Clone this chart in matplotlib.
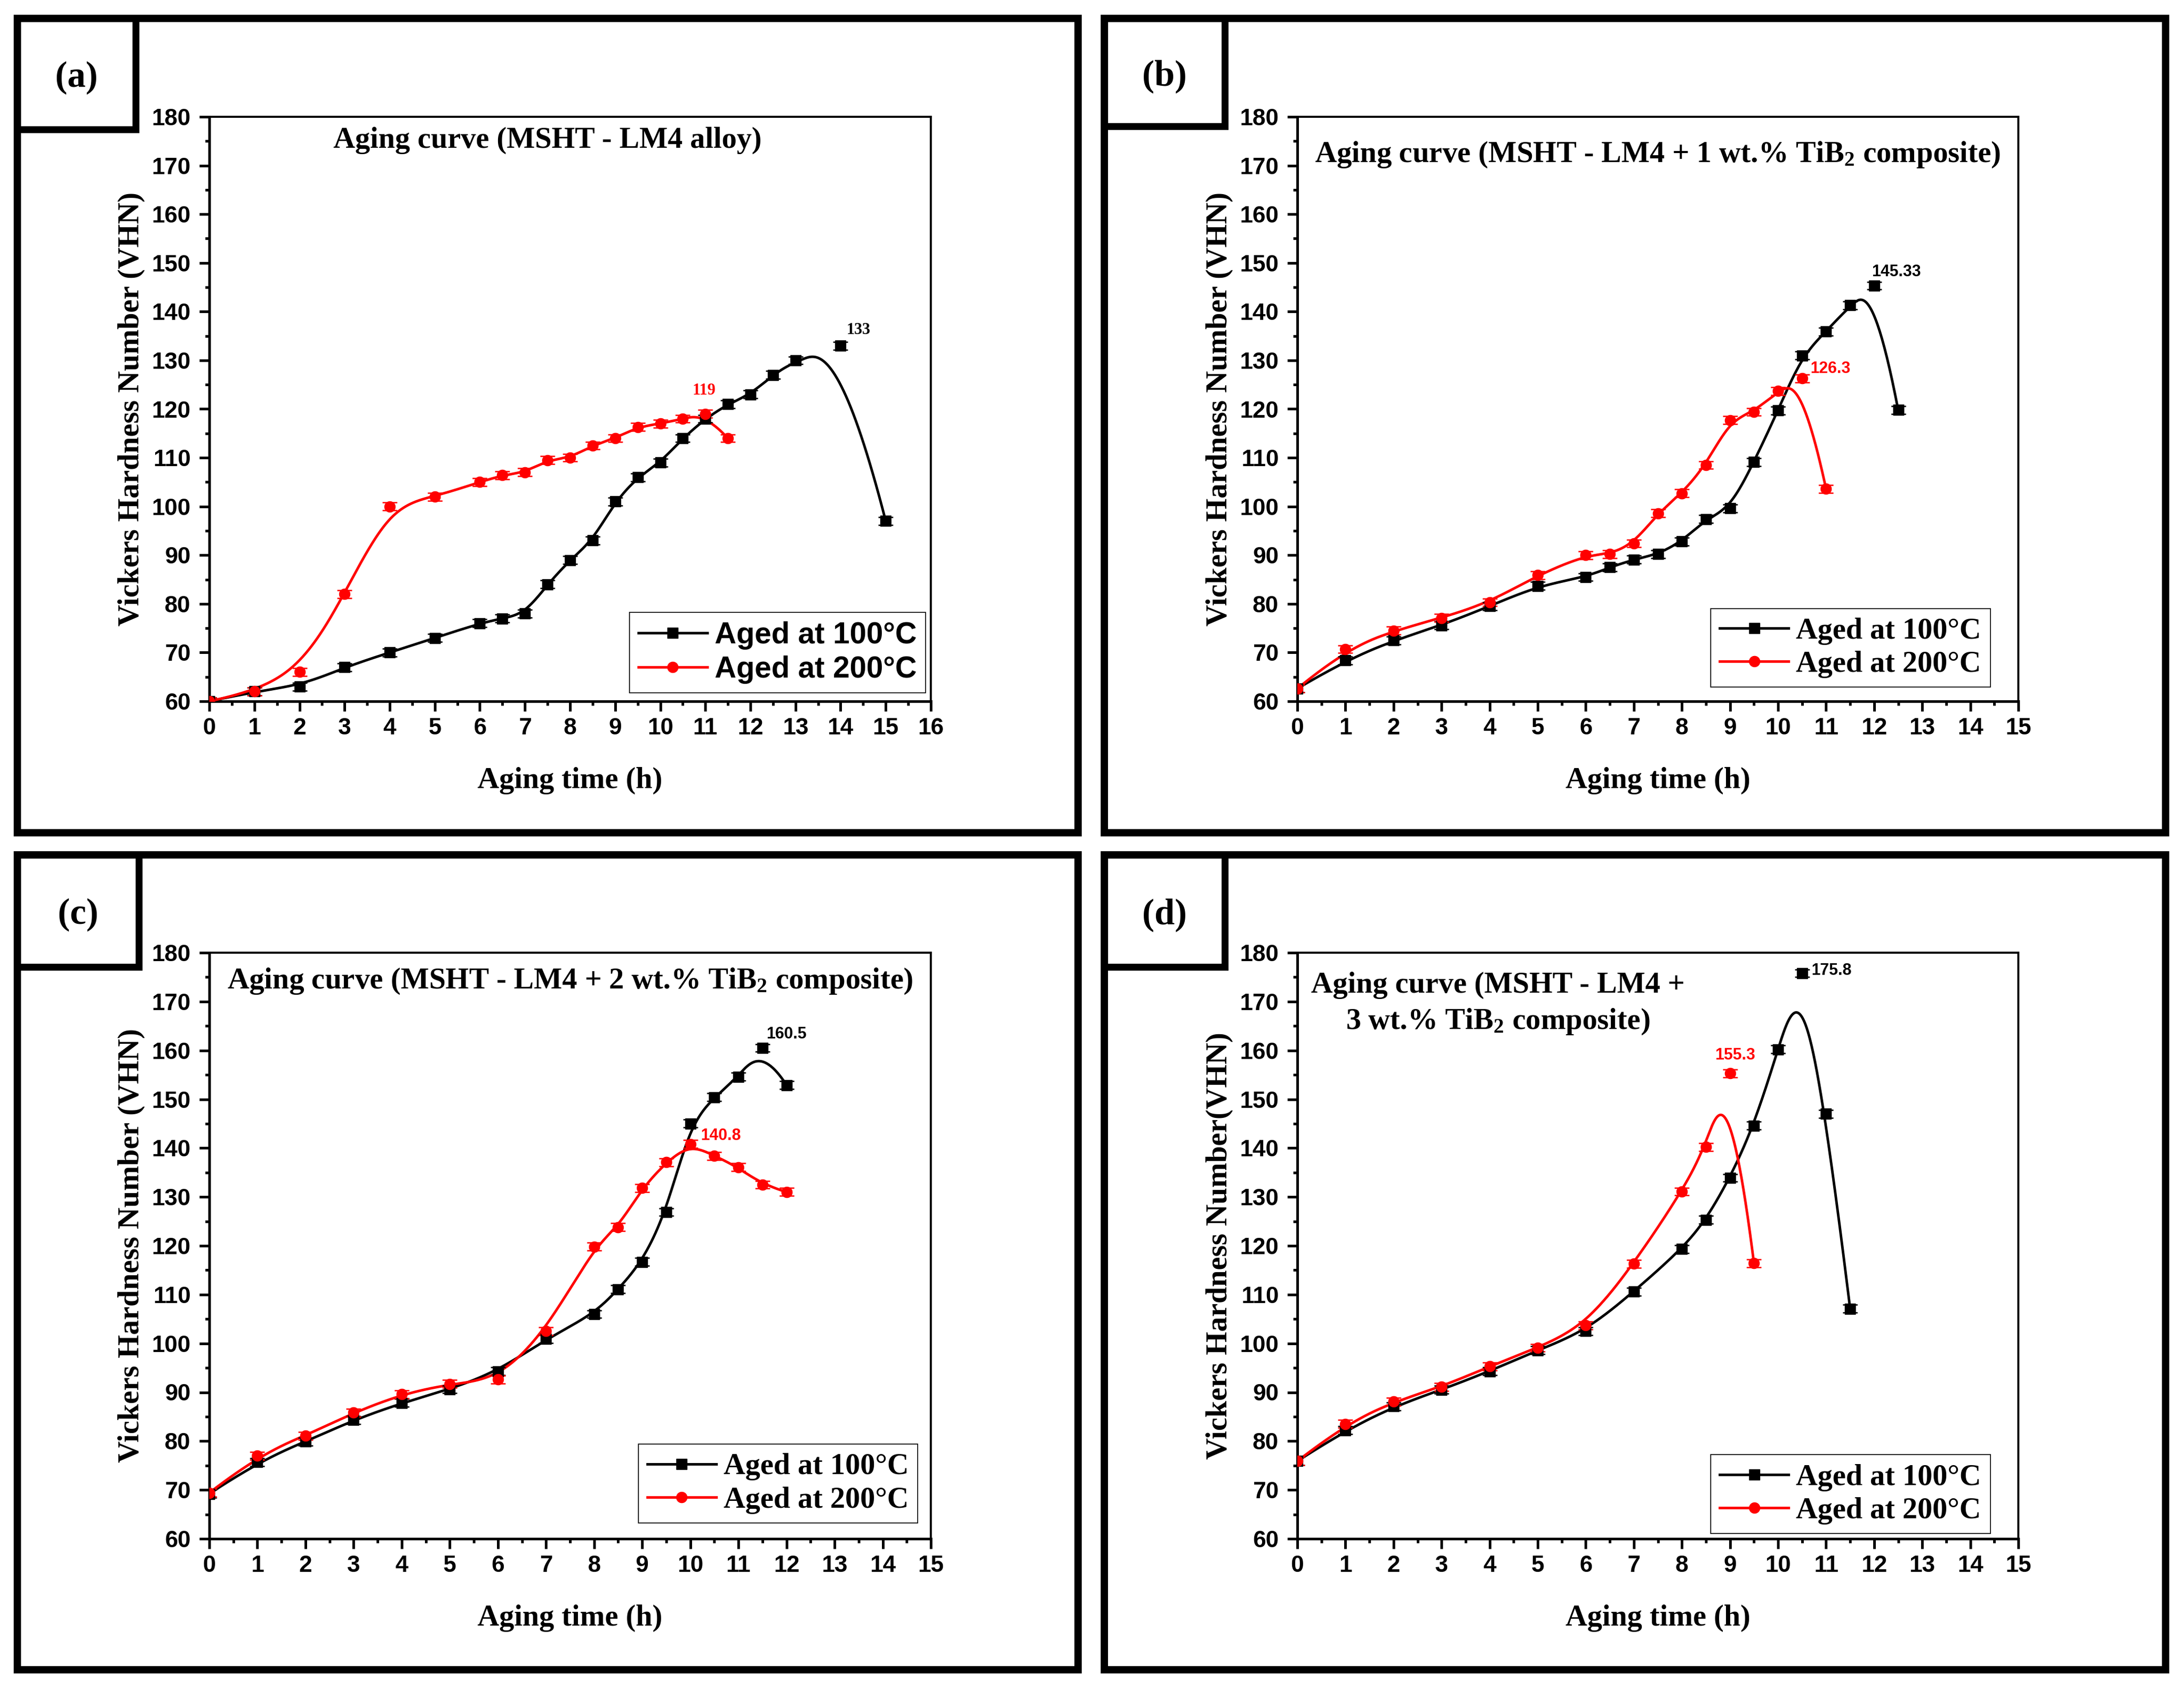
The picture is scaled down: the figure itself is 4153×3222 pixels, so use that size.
import numpy as np
import matplotlib
matplotlib.use('Agg')
import matplotlib.pyplot as plt
from matplotlib.lines import Line2D
from matplotlib.patches import Rectangle
from matplotlib.ticker import MultipleLocator

plt.rcParams['mathtext.default'] = 'regular'

SANS = 'Liberation Sans'
SERIF = 'Liberation Serif'

# ---- data ----
# (a) LM4 alloy
t_a100 = [0, 1, 2, 3, 4, 5, 6, 6.5, 7, 7.5, 8, 8.5, 9, 9.5, 10, 10.5, 11, 11.5, 12, 12.5, 13, 14, 15]
hv_a100 = [60, 62, 63, 67, 70, 73, 76, 77, 78, 84, 89, 93, 101, 106, 109, 114, 118, 121, 123, 127, 130, 133, 97]
t_a200 = [0, 1, 2, 3, 4, 5, 6, 6.5, 7, 7.5, 8, 8.5, 9, 9.5, 10, 10.5, 11, 11.5]
hv_a200 = [60, 62, 66, 82, 100, 102, 105, 106.4, 107, 109.5, 110, 112.5, 114, 116.3, 117, 118, 119, 114]

# (b) LM4 + 1 wt.% TiB2
t_b100 = [0, 1, 2, 3, 4, 5, 6, 6.5, 7, 7.5, 8, 8.5, 9, 9.5, 10, 10.5, 11, 11.5, 12, 12.5]
hv_b100 = [62.6, 68.4, 72.5, 75.6, 79.5, 83.7, 85.5, 87.5, 89.1, 90.2, 92.8, 97.4, 99.6, 109.1, 119.7,
           131.0, 135.9, 141.3, 145.33, 119.8]
t_b200 = [0, 1, 2, 3, 4, 5, 6, 6.5, 7, 7.5, 8, 8.5, 9, 9.5, 10, 10.5, 11]
hv_b200 = [62.6, 70.7, 74.5, 77.1, 80.3, 85.9, 90.0, 90.2, 92.4, 98.6, 102.7, 108.5, 117.7, 119.4, 123.7,
           126.3, 103.6]

# (c) LM4 + 2 wt.% TiB2
t_c100 = [0, 1, 2, 3, 4, 5, 6, 7, 8, 8.5, 9, 9.5, 10, 10.5, 11, 11.5, 12]
hv_c100 = [69.2, 75.7, 79.9, 84.3, 87.8, 90.6, 94.3, 100.9, 106.0, 111.1, 116.7, 126.9, 145.0, 150.4,
           154.6, 160.5, 152.9]
t_c200 = [0, 1, 2, 3, 4, 5, 6, 7, 8, 8.5, 9, 9.5, 10, 10.5, 11, 11.5, 12]
hv_c200 = [69.4, 77.0, 81.1, 85.8, 89.6, 91.7, 92.6, 102.5, 119.8, 123.8, 131.8, 137.1, 140.8, 138.4,
           136.1, 132.5, 131.0]

# (d) LM4 + 3 wt.% TiB2
t_d100 = [0, 1, 2, 3, 4, 5, 6, 7, 8, 8.5, 9, 9.5, 10, 10.5, 11, 11.5]
hv_d100 = [75.9, 82.2, 87.1, 90.5, 94.3, 98.6, 102.5, 110.6, 119.3, 125.3, 133.9, 144.6, 160.2, 175.8,
           147.0, 107.1]
t_d200 = [0, 1, 2, 3, 4, 5, 6, 7, 8, 8.5, 9, 9.5]
hv_d200 = [75.9, 83.5, 88.1, 91.1, 95.3, 99.1, 103.7, 116.3, 131.1, 140.2, 155.3, 116.4]

titles = ['Aging curve (MSHT - LM4 alloy)',
          'Aging curve (MSHT - LM4 + 1 wt.% TiB$_2$ composite)',
          'Aging curve (MSHT - LM4 + 2 wt.% TiB$_2$ composite)',
          'Aging curve (MSHT - LM4 +\n3 wt.% TiB$_2$ composite)']
letters = ['(a)', '(b)', '(c)', '(d)']
ylabels = ['Vickers Hardness Number (VHN)'] * 3 + ['Vickers Hardness Number(VHN)']
legend_labels = ['Aged at 100\u00b0C', 'Aged at 200\u00b0C']

# peak value labels: text, x, y
peaks = [[('133', 14.39, 135.4), ('119', 10.97, 123.0)],
         [('145.33', 12.46, 147.3), ('126.3', 11.09, 127.4)],
         [('160.5', 12.0, 162.4), ('140.8', 10.63, 141.6)],
         [('175.8', 11.11, 175.5), ('155.3', 9.11, 158.1)]]

ERR = 0.8

W, H = 4153, 3222
fig = plt.figure(figsize=(W / 100, H / 100), dpi=100)


def bspline(x, y, num=800):
    # clamped cubic B-spline using the data points as control points
    P = np.column_stack([x, y]).astype(float)
    n = len(P)
    k = 3
    knots = np.concatenate([np.zeros(k), np.linspace(0, 1, n - k + 1), np.ones(k)])
    t = np.linspace(0, 1 - 1e-9, num)
    N = np.zeros((num, len(knots) - 1))
    for i in range(len(knots) - 1):
        N[:, i] = (knots[i] <= t) & (t < knots[i + 1])
    for d in range(1, k + 1):
        Nn = np.zeros((num, len(knots) - 1 - d))
        for i in range(len(knots) - 1 - d):
            den1 = knots[i + d] - knots[i]
            den2 = knots[i + d + 1] - knots[i + 1]
            if den1 > 0:
                Nn[:, i] += (t - knots[i]) / den1 * N[:, i]
            if den2 > 0:
                Nn[:, i] += (knots[i + d + 1] - t) / den2 * N[:, i + 1]
        N = Nn
    curve = N @ P
    return curve[:, 0], curve[:, 1]


def pix_rect(x0, y0, x1, y1, lw):
    rect = Rectangle((x0 / W, 1 - y1 / H), (x1 - x0) / W, (y1 - y0) / H,
                     transform=fig.transFigure, fill=False, edgecolor='black',
                     linewidth=lw, joinstyle='miter')
    fig.add_artist(rect)


# panel frames and letter boxes (pixel coordinates, line centres)
frames = [(33, 35, 2050, 1583), (2100, 35, 4118, 1583),
          (33, 1625, 2050, 3174), (2100, 1625, 4118, 3174)]
boxes = [(33, 35, 258, 246), (2100, 35, 2329, 240),
         (33, 1625, 264, 1838), (2100, 1625, 2329, 1838)]
for f in frames:
    pix_rect(*f, lw=10)
for b, lab in zip(boxes, letters):
    pix_rect(*b, lw=9.5)
    fig.text((b[0] + b[2]) / 2 / W, 1 - ((b[1] + b[3]) / 2 + 8) / H, lab,
             ha='center', va='center', fontsize=50, fontweight='bold', family=SERIF)

# axes boxes: left, top, right, bottom in pixels
ax_px = [(398, 222, 1770, 1333), (2467, 222, 3838, 1333),
         (398, 1811, 1770, 2925), (2467, 1811, 3838, 2925)]

series = [
    (t_a100, hv_a100, t_a200, hv_a200),
    (t_b100, hv_b100, t_b200, hv_b200),
    (t_c100, hv_c100, t_c200, hv_c200),
    (t_d100, hv_d100, t_d200, hv_d200),
]
xmax = [16, 15, 15, 15]
title_pos = [(0.469, 0.947), (0.5, 0.923), (0.5, 0.939), (0.278, 0.870)]
legend_pos = [(0.993, 0.014), (0.961, 0.024), (0.982, 0.027), (0.961, 0.009)]
legend_font = [SANS, SERIF, SERIF, SERIF]
peak_font = [(SERIF, 22), (SANS, 22), (SANS, 22), (SANS, 22)]

for i in range(4):
    l, t, r, btm = ax_px[i]
    ax = fig.add_axes([l / W, 1 - btm / H, (r - l) / W, (btm - t) / H])
    t1, v1, t2, v2 = series[i]

    for tt, vv, col, mk, ms in [(t1, v1, 'black', 's', 14), (t2, v2, 'red', 'o', 14.5)]:
        xs, ys = bspline(tt, vv)
        ax.plot(xs, ys, color=col, lw=3.5, zorder=3)
        ax.errorbar(tt, vv, yerr=ERR, fmt=mk, color=col, ms=ms, mec=col,
                    ecolor=col, elinewidth=1.8, capsize=10, capthick=1.8, zorder=4)

    ax.set_xlim(0, xmax[i])
    ax.set_ylim(60, 180)
    ax.xaxis.set_major_locator(MultipleLocator(1))
    ax.xaxis.set_minor_locator(MultipleLocator(0.5))
    ax.yaxis.set_major_locator(MultipleLocator(10))
    ax.yaxis.set_minor_locator(MultipleLocator(5))
    ax.tick_params(which='both', direction='out', top=False, right=False, width=3.6)
    ax.tick_params(which='major', length=13.5)
    ax.tick_params(which='minor', length=6)
    ax.tick_params(axis='x', pad=9)
    ax.tick_params(axis='y', pad=12)
    for lab in ax.get_xticklabels() + ax.get_yticklabels():
        lab.set_family(SANS)
        lab.set_fontweight('bold')
        lab.set_fontsize(32)
    for side in ['left', 'bottom']:
        ax.spines[side].set_linewidth(3.6)
    for side in ['top', 'right']:
        ax.spines[side].set_linewidth(2.8)

    ax.set_xlabel('Aging time (h)', fontsize=41, fontweight='bold', family=SERIF)
    ax.set_ylabel(ylabels[i], fontsize=41, fontweight='bold', family=SERIF)
    ax.xaxis.set_label_coords(0.5, -0.112)
    ax.yaxis.set_label_coords(-0.089, 0.5)

    tx, ty = title_pos[i]
    ax.text(tx, ty, titles[i], transform=ax.transAxes, ha='center', va='baseline',
            fontsize=41, fontweight='bold', family=SERIF, linespacing=1.38)

    handles = [Line2D([], [], color='black', lw=3.5, marker='s', ms=14),
               Line2D([], [], color='red', lw=3.5, marker='o', ms=14.5)]
    leg = ax.legend(handles, legend_labels, loc='lower right', bbox_to_anchor=legend_pos[i],
                    prop={'family': legend_font[i], 'weight': 'bold', 'size': 41},
                    frameon=True, fancybox=False, edgecolor='black', framealpha=1,
                    handlelength=2.3, handletextpad=0.25, borderpad=0.3,
                    labelspacing=0.2, borderaxespad=0)
    leg.get_frame().set_linewidth(1.2)

    fam, fs = peak_font[i]
    for (txt, px, py), col in zip(peaks[i], ['black', 'red']):
        ax.text(px, py, txt, ha='center', va='baseline', color=col,
                fontsize=fs, fontweight='bold', family=fam)

fig.savefig('out.png', dpi=100)
